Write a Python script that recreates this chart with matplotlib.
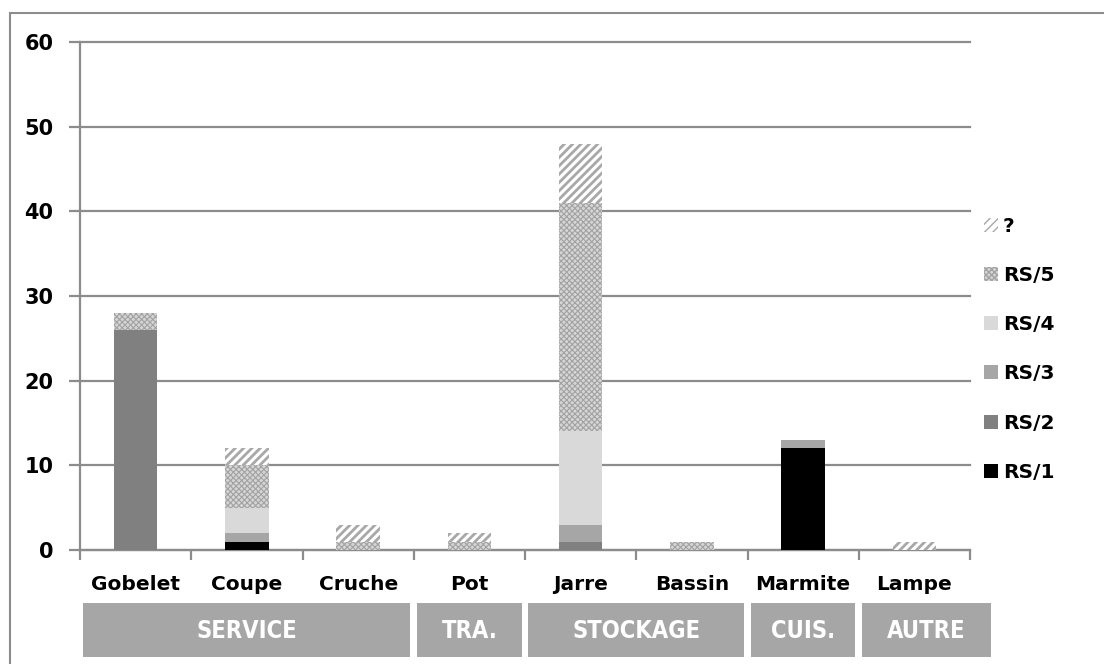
import matplotlib
matplotlib.use("Agg")
import matplotlib.pyplot as plt
import matplotlib.transforms as mtransforms
from matplotlib.patches import Rectangle, Patch
import numpy as np

categories = ["Gobelet", "Coupe", "Cruche", "Pot", "Jarre", "Bassin", "Marmite", "Lampe"]
series = ["RS/1", "RS/2", "RS/3", "RS/4", "RS/5", "?"]
rs1 = [0, 1, 0, 0, 0, 0, 12, 0]
rs2 = [26, 0, 0, 0, 1, 0, 0, 0]
rs3 = [0, 1, 0, 0, 2, 0, 1, 0]
rs4 = [0, 3, 0, 0, 11, 0, 0, 0]
rs5 = [2, 5, 1, 1, 27, 1, 0, 0]
unknown = [0, 2, 2, 1, 7, 0, 0, 1]
values = [rs1, rs2, rs3, rs4, rs5, unknown]

groups = ["SERVICE", "TRA.", "STOCKAGE", "CUIS.", "AUTRE"]
group_sizes = [3, 1, 2, 1, 1]

# facecolor, hatch colour, hatch pattern, hatch linewidth
styles = {
    "RS/1": ("#000000", "#000000", None, 1.0),
    "RS/2": ("#808080", "#808080", None, 1.0),
    "RS/3": ("#a6a6a6", "#a6a6a6", None, 1.0),
    "RS/4": ("#d9d9d9", "#d9d9d9", None, 1.0),
    "RS/5": ("#d6d6d6", "#a2a2a2", "xxxxxx", 0.8),
    "?": ("#ffffff", "#a8a8a8", "////", 2.0),
}

grid_col = "#8c8c8c"
plt.rcParams["font.family"] = ["DejaVu Sans"]

fig = plt.figure(figsize=(11.04, 6.64), dpi=100)
ax = fig.add_axes([80 / 1104, 1 - 550 / 664, 890 / 1104, 508 / 664])

x = np.arange(len(categories))
bottom = np.zeros(len(categories))
handles = []
for name, vals in zip(series, values):
    fc, hc, hatch, hlw = styles[name]
    with plt.rc_context({"hatch.linewidth": hlw}):
        bars = ax.bar(x, vals, width=0.39, bottom=bottom, color=fc,
                      edgecolor=hc, linewidth=0, hatch=hatch, zorder=3)
        h = Patch(facecolor=fc, edgecolor=hc, linewidth=0, hatch=hatch)
    handles.append(h)
    bottom += np.array(vals)

ax.set_xlim(-0.5, len(categories) - 0.5)
ax.set_ylim(0, 60)
ax.set_yticks(range(0, 61, 10))
ax.yaxis.grid(True, color=grid_col, linewidth=1.6, zorder=0)
for gl in ax.get_ygridlines():
    gl.set_clip_on(False)
ax.set_axisbelow(True)
for s in ["top", "right"]:
    ax.spines[s].set_visible(False)
for s in ["left", "bottom"]:
    ax.spines[s].set_color(grid_col)
    ax.spines[s].set_linewidth(1.6)
ax.tick_params(axis="y", length=8, width=1.6, color=grid_col, pad=11,
               labelsize=15)
for lab in ax.get_yticklabels():
    lab.set_fontweight("bold")

# category ticks sit between categories
ax.set_xticks(np.arange(-0.5, len(categories), 1.0))
ax.set_xticklabels([])
ax.tick_params(axis="x", length=7, width=1.6, color=grid_col)
trans = mtransforms.blended_transform_factory(ax.transData, ax.transAxes)
for i, c in enumerate(categories):
    ax.text(i, -0.068, c, transform=trans, ha="center", va="center",
            fontsize=14.5, fontweight="bold", color="black")

# group boxes below the category labels
start = -0.5
for gi, (g, n) in enumerate(zip(groups, group_sizes)):
    x0 = start + 0.03
    x1 = start + n - 0.03
    if gi == len(groups) - 1:
        x1 += 0.22
    r = Rectangle((x0, -0.21), x1 - x0, 0.105, transform=trans,
                  facecolor="#a6a6a6", edgecolor="none", clip_on=False)
    ax.add_patch(r)
    ax.text((x0 + x1) / 2, -0.16, g, transform=trans, ha="center", va="center",
            fontsize=17, fontweight="bold", fontstretch="condensed",
            color="white", family=["DejaVu Sans"])
    start += n

leg = ax.legend(handles[::-1], series[::-1], loc="center left",
                bbox_to_anchor=(0.995, 0.395), frameon=False, fontsize=14.5,
                handlelength=0.7, handleheight=0.7, handletextpad=0.25,
                labelspacing=1.5)
for t in leg.get_texts():
    t.set_fontweight("bold")

# outer frame
fig.patches.append(Rectangle((10 / 1104, -0.1), 1.2, 1 - 13 / 664 + 0.1,
                             transform=fig.transFigure, facecolor="none",
                             edgecolor="#8c8c8c", linewidth=1.5))

fig.savefig("out.png", dpi=100)
